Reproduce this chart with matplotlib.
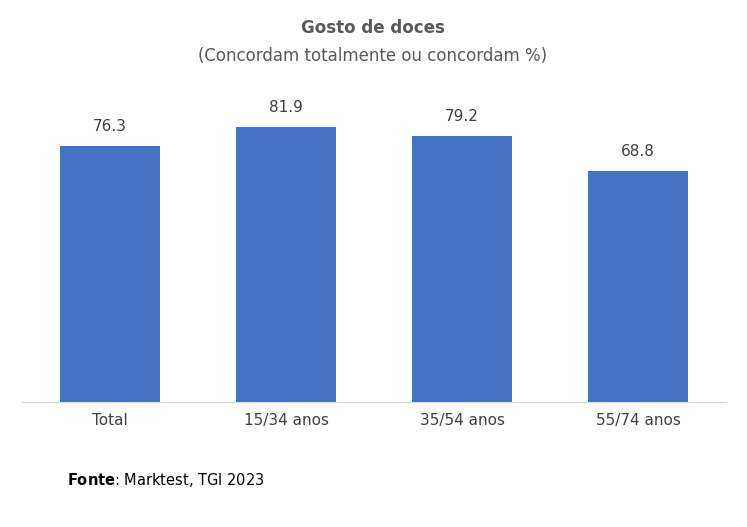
import matplotlib
matplotlib.use("Agg")
import matplotlib.pyplot as plt

categories = ["Total", "15/34 anos", "35/54 anos", "55/74 anos"]
values = [76.3, 81.9, 79.2, 68.8]

fig = plt.figure(figsize=(7.47, 5.27), dpi=100)
ax = fig.add_axes([22/747, 125/527, 704/747, 302/527])
x = range(len(categories))
bars = ax.bar(x, values, width=0.57, color="#4472C4")
ax.set_xlim(-0.5, 3.5)
ax.set_ylim(0, 90)
for xi, v in zip(x, values):
    ax.text(xi, v + 3.5, f"{v:.1f}", ha="center", va="bottom", fontsize=11, color="#404040")
ax.set_xticks(list(x))
ax.set_xticklabels(categories, fontsize=11, color="#404040")
ax.tick_params(axis="x", length=0, pad=8)
ax.set_yticks([])
for s in ["top", "right", "left"]:
    ax.spines[s].set_visible(False)
ax.spines["bottom"].set_color("#d9d9d9")

fig.text(373/747, 1 - 28/527, "Gosto de doces", ha="center", va="center",
         fontsize=12, fontweight="bold", color="#595959")
fig.text(373/747, 1 - 56/527, "(Concordam totalmente ou concordam %)", ha="center", va="center",
         fontsize=12, color="#595959")
fig.text(67/747, 1 - 480/527, r"$\bf{Fonte}$: Marktest, TGI 2023", ha="left", va="center",
         fontsize=10.5, color="#000000")
fig.savefig("out.png", dpi=100)
